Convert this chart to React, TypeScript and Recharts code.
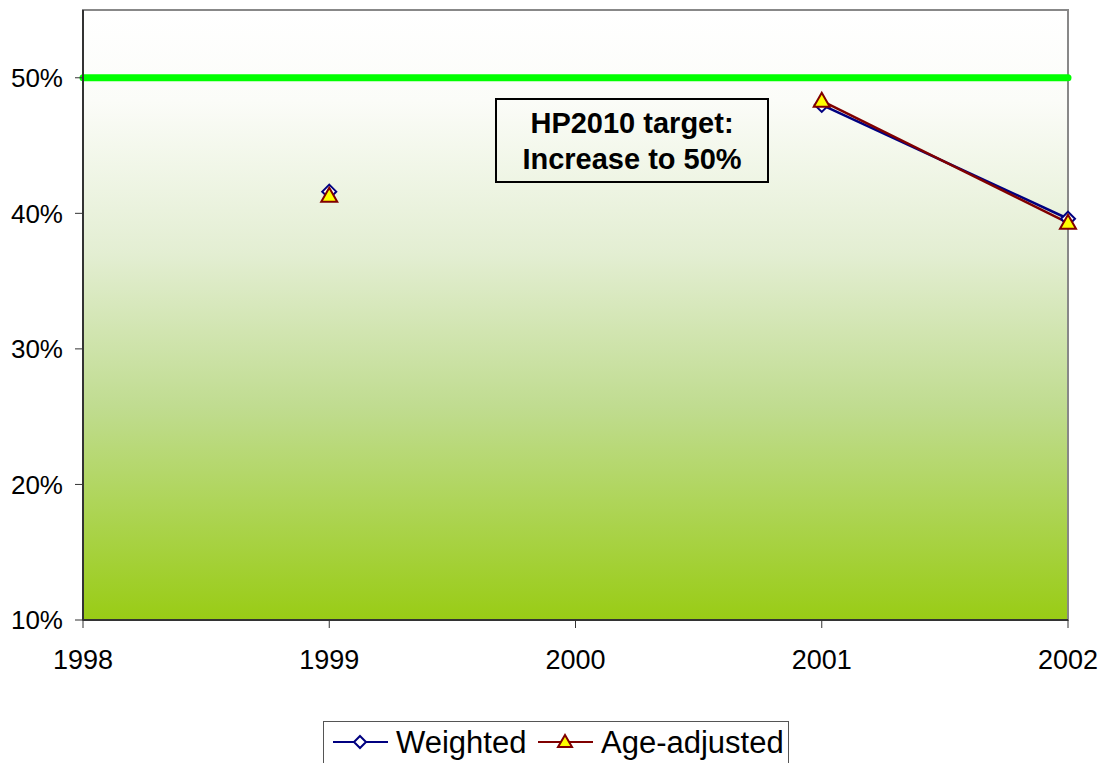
import { LineChart, Line, XAxis, YAxis, ReferenceLine, ReferenceArea } from 'recharts';

const years = [1999, 2000, 2001, 2002];
const weighted = [41.6, null, 48.0, 39.6];
const ageAdjusted = [41.3, null, 48.3, 39.3];
const yTicks = [10, 20, 30, 40, 50];
const xTicks = [1998, 1999, 2000, 2001, 2002];
const target = 50;

const data = years.map((year, i) => ({
  year,
  weighted: weighted[i],
  ageAdjusted: ageAdjusted[i],
}));

const FONT = '"Liberation Sans", Arial, sans-serif';

const Diamond = (props: any) => {
  const { cx, cy, index } = props;
  if (cx == null || cy == null) return <g key={`d${index}`} />;
  const r = 7;
  return (
    <polygon
      key={`d${index}`}
      points={`${cx},${cy - r} ${cx + r},${cy} ${cx},${cy + r} ${cx - r},${cy}`}
      fill="#fff"
      stroke="#000080"
      strokeWidth={2}
    />
  );
};

const Triangle = (props: any) => {
  const { cx, cy, index } = props;
  if (cx == null || cy == null) return <g key={`t${index}`} />;
  return (
    <polygon
      key={`t${index}`}
      points={`${cx},${cy - 8} ${cx + 8},${cy + 6} ${cx - 8},${cy + 6}`}
      fill="#ffff00"
      stroke="#800000"
      strokeWidth={2}
    />
  );
};

const LegendBox = () => (
  <div
    style={{
      position: 'absolute',
      left: 323,
      top: 721,
      width: 466,
      height: 62,
      border: '1px solid #555',
      background: '#fff',
      fontFamily: FONT,
      fontSize: 31,
      color: '#000',
      boxSizing: 'border-box',
    }}
  >
    <svg width={466} height={62} style={{ position: 'absolute', left: 0, top: 0 }}>
      <line x1={9} y1={20} x2={64} y2={20} stroke="#000080" strokeWidth={2} />
      <polygon points="36,14 42,20 36,26 30,20" fill="#fff" stroke="#000080" strokeWidth={2} />
      <line x1={214} y1={20} x2={269} y2={20} stroke="#800000" strokeWidth={2} />
      <polygon points="241,13 248,25 234,25" fill="#ffff00" stroke="#800000" strokeWidth={2} />
    </svg>
    <span style={{ position: 'absolute', left: 72, top: 4, lineHeight: '34px' }}>Weighted</span>
    <span style={{ position: 'absolute', left: 277, top: 4, lineHeight: '34px' }}>Age-adjusted</span>
  </div>
);

export default function App() {
  return (
    <div style={{ position: 'absolute', left: 0, top: 0, width: 1103, height: 763, background: '#fff', overflow: 'hidden' }}>
      <LineChart
        width={1103}
        height={763}
        data={data}
        margin={{ top: 10, right: 35, bottom: 83, left: 0 }}
      >
        <defs>
          <linearGradient id="bg" x1="0" y1="0" x2="0" y2="1">
            <stop offset="0%" stopColor="#ffffff" />
            <stop offset="15%" stopColor="#fbfcf8" />
            <stop offset="40%" stopColor="#e3eed2" />
            <stop offset="65%" stopColor="#c0dc90" />
            <stop offset="100%" stopColor="#99cc15" />
          </linearGradient>
        </defs>
        <ReferenceArea
          x1={1998}
          x2={2002}
          y1={10}
          y2={55}
          fill="url(#bg)"
          fillOpacity={1}
          stroke="#888"
          strokeWidth={2}
          ifOverflow="visible"
        />
        <XAxis
          dataKey="year"
          type="number"
          domain={[1998, 2002]}
          ticks={xTicks}
          allowDecimals={false}
          height={60}
          tickSize={8}
          tickMargin={22}
          fontSize={27}
          axisLine={{ stroke: '#333', strokeWidth: 2 }}
          tickLine={{ stroke: '#333' }}
          tick={{ fill: '#000', fontSize: 27, fontFamily: FONT }}
        />
        <YAxis
          type="number"
          domain={[10, 55]}
          ticks={yTicks}
          width={83}
          tickSize={8}
          tickMargin={12}
          fontSize={26}
          tickFormatter={(v: number) => `${v}%`}
          axisLine={{ stroke: '#333', strokeWidth: 2 }}
          tickLine={{ stroke: '#333' }}
          tick={{ fill: '#000', fontSize: 26, fontFamily: FONT }}
        />
        <ReferenceLine y={target} stroke="#00ff00" strokeWidth={7} strokeLinecap="round" />
        <Line
          type="linear"
          dataKey="weighted"
          stroke="#000080"
          strokeWidth={2.5}
          dot={Diamond}
          activeDot={false}
          connectNulls={false}
          isAnimationActive={false}
        />
        <Line
          type="linear"
          dataKey="ageAdjusted"
          stroke="#800000"
          strokeWidth={2.5}
          dot={Triangle}
          activeDot={false}
          connectNulls={false}
          isAnimationActive={false}
        />
      </LineChart>
      <div
        style={{
          position: 'absolute',
          left: 495,
          top: 98,
          width: 274,
          height: 85,
          border: '2px solid #000',
          background: 'transparent',
          boxSizing: 'border-box',
          display: 'flex',
          flexDirection: 'column',
          justifyContent: 'center',
          alignItems: 'center',
          fontFamily: FONT,
          fontWeight: 'bold',
          fontSize: 29,
          lineHeight: '36px',
          color: '#000',
        }}
      >
        <div>HP2010 target:</div>
        <div>Increase to 50%</div>
      </div>
      <LegendBox />
    </div>
  );
}
